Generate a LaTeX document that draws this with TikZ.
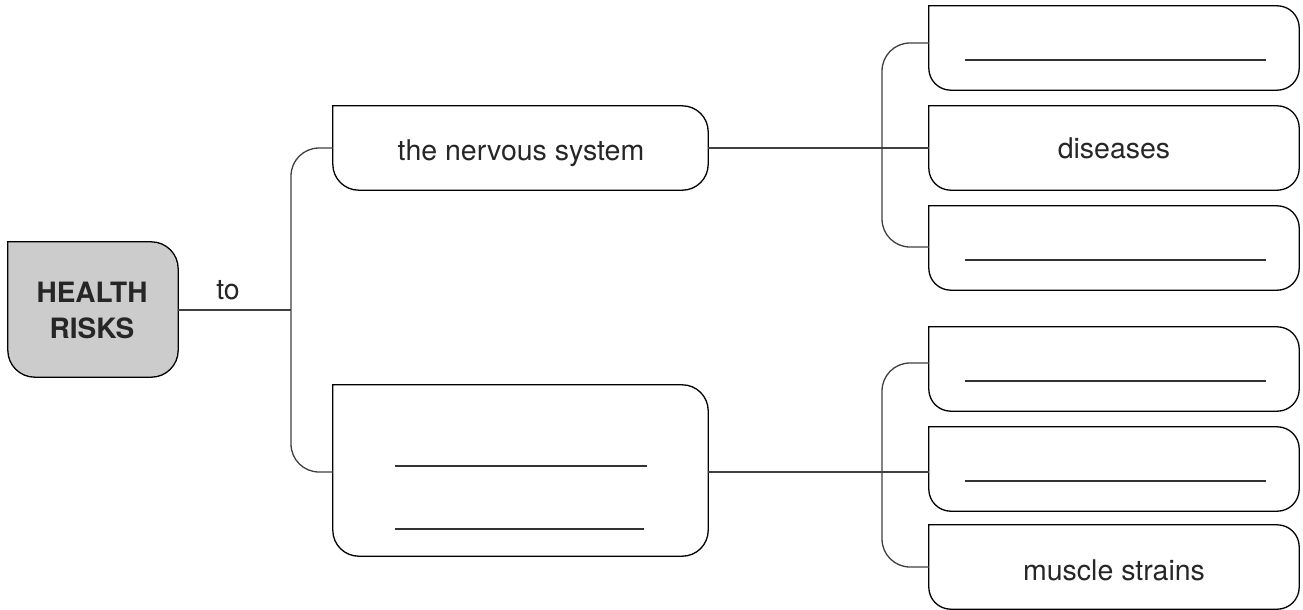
\documentclass[tikz,border=0pt]{standalone}
\usepackage{fontspec}
\setmainfont{TeX Gyre Heros}
\begin{document}
\begin{tikzpicture}[x=1pt,y=-1pt,
  holder/.style={draw=none,rectangle,inner sep=0pt,font=\fontsize{28.5}{30}\selectfont,text=black!85},
  conn/.style={line width=1.3pt,draw=black!75},
  outl/.style={line width=1.3pt,draw=black},
  blankline/.style={line width=1.3pt,draw=black!80}]
\useasboundingbox (0,0) rectangle (1303,610);
\newcommand\shapeoutline[3][]{%
  \path[outl,#1] (#2.north west) -- ([xshift=-#3pt]#2.north east)
    arc[start angle=90,end angle=0,radius=#3pt]
    -- ([yshift=#3pt]#2.south east)
    arc[start angle=0,end angle=-90,radius=#3pt]
    -- ([xshift=#3pt]#2.south west)
    arc[start angle=270,end angle=180,radius=#3pt]
    -- cycle;}
% nodes
\node[holder,minimum width=170pt,minimum height=135pt] (hr) at (93,309.5) {};
\node[holder,minimum width=375pt,minimum height=84pt] (nerv) at (520.5,148) {};
\node[holder,minimum width=375pt,minimum height=171pt] (blank) at (520.5,470.5) {};
\node[holder,minimum width=370pt,minimum height=84pt] (r1) at (1114,48) {};
\node[holder,minimum width=370pt,minimum height=84pt] (r2) at (1114,148) {};
\node[holder,minimum width=370pt,minimum height=84pt] (r3) at (1114,248) {};
\node[holder,minimum width=370pt,minimum height=84pt] (r4) at (1114,369) {};
\node[holder,minimum width=370pt,minimum height=84pt] (r5) at (1114,469) {};
\node[holder,minimum width=370pt,minimum height=84pt] (r6) at (1114,567) {};
% outlines
\shapeoutline[fill=black!20]{hr}{27}
\shapeoutline{nerv}{26}
\shapeoutline{blank}{26}
\foreach \n in {r1,r2,r3,r4,r5,r6} {\shapeoutline{\n}{22}}
% texts
\node[holder,anchor=base,font=\fontsize{28}{30}\selectfont\bfseries] (hrt1) at (92,302) {HEALTH};
\node[holder,anchor=base,font=\fontsize{28}{30}\selectfont\bfseries] (hrt2) at (92,338) {RISKS};
\node[holder,anchor=base] (nervt) at (521,160) {the nervous system};
\node[holder,anchor=base] (r2t) at (1114,158) {diseases};
\node[holder,anchor=base] (r6t) at (1114,580) {muscle strains};
\node[holder,anchor=base] (tot) at (228,299) {to};
% blank answer lines
\coordinate (b1a) at (395,466); \coordinate (b1b) at (647,466);
\coordinate (b2a) at (395,529); \coordinate (b2b) at (644,529);
\draw[blankline] (b1a) -- (b1b);
\draw[blankline] (b2a) -- (b2b);
\foreach \n/\yy in {r1/60,r3/260,r4/381,r5/481} {
  \draw[blankline] (965,\yy) -- (1266,\yy);
}
% connectors
\coordinate (sp1) at (291,310);
\draw[conn] (hr.east |- sp1) -- (sp1);
\draw[conn,rounded corners=28pt] (nerv.west) -- (291,148) -- (291,472) -- (blank.west |- 0,472);
\draw[conn] (nerv.east) -- (r2.west);
\draw[conn] (blank.east |- 0,472) -- (r5.west |- 0,472);
\draw[conn,rounded corners=28pt] (r1.west |- 0,43) -- (882,43) -- (882,247) -- (r3.west |- 0,247);
\draw[conn,rounded corners=28pt] (r4.west |- 0,363) -- (882,363) -- (882,567) -- (r6.west |- 0,567);
\end{tikzpicture}
\end{document}
